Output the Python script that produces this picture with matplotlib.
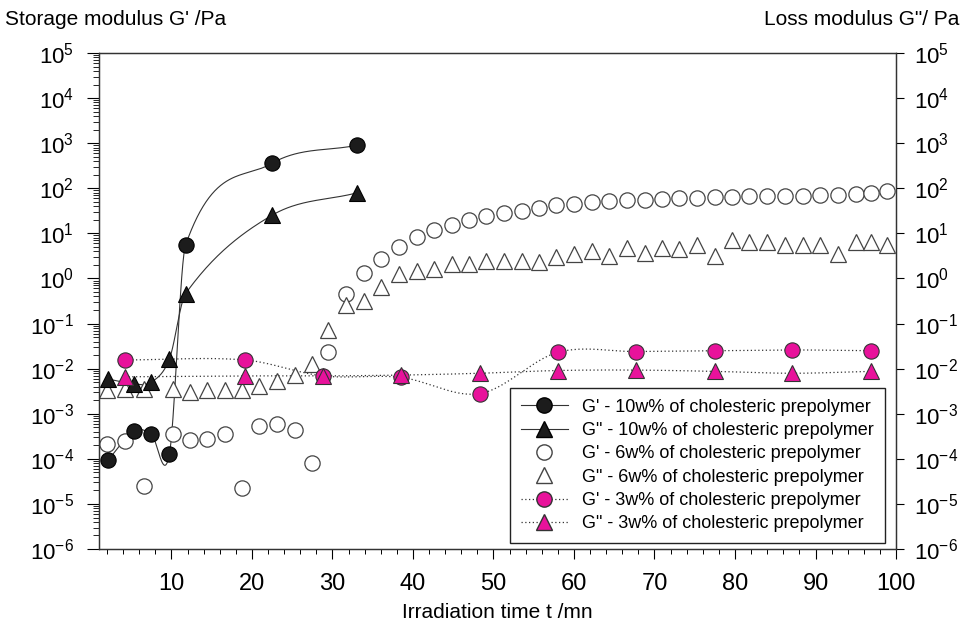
import numpy as np
import matplotlib.pyplot as plt
from matplotlib.ticker import LogLocator, FixedLocator, MultipleLocator, FuncFormatter
from matplotlib.lines import Line2D

plt.rcParams['font.family'] = ['Liberation Sans', 'DejaVu Sans']
plt.rcParams['mathtext.default'] = 'regular'
plt.rcParams['axes.unicode_minus'] = False

# 10w% of cholesteric prepolymer
t10 = [2.1, 5.4, 7.5, 9.75, 11.75, 22.45, 33.0]
g1_10 = [9.3e-5, 4.2e-4, 3.5e-4, 1.3e-4, 5.5, 355, 900]
g2_10 = [5.9e-3, 4.6e-3, 5.0e-3, 1.65e-2, 0.46, 25, 79]

# 6w% of cholesteric prepolymer
t6 = [2.0, 4.25, 6.65, 10.2, 12.3, 14.4, 16.6, 18.8, 20.9, 23.1, 25.3, 27.5, 29.5,
      31.7, 33.9, 36.0, 38.3, 40.5, 42.6, 44.8, 47.0, 49.1, 51.3, 53.5, 55.6, 57.8,
      60.0, 62.2, 64.4, 66.6, 68.8, 70.9, 73.0, 75.3, 77.5, 79.6, 81.8, 84.0, 86.2,
      88.4, 90.6, 92.8, 95.0, 96.9, 98.9]
g1_6 = [2.1e-4, 2.5e-4, 2.5e-5, 3.5e-4, 2.6e-4, 2.8e-4, 3.5e-4, 2.3e-5, 5.4e-4, 5.9e-4,
        4.4e-4, 8e-5, 2.3e-2, 0.46, 1.3, 2.7, 5.1, 8.3, 11.7, 15, 19.5, 24, 28, 32, 37,
        42, 46, 49, 52, 54, 56, 59, 60, 62, 63, 64, 66, 66, 69, 69, 71, 72, 74, 79, 87]
g2_6 = [3.4e-3, 3.5e-3, 3.5e-3, 3.5e-3, 3.1e-3, 3.3e-3, 3.3e-3, 3.3e-3, 4.2e-3, 5.4e-3,
        7.4e-3, 1.27e-2, 7.2e-2, 0.26, 0.32, 0.64, 1.23, 1.5, 1.6, 2.1, 2.1, 2.5, 2.5, 2.5,
        2.3, 3.0, 3.5, 4.0, 3.2, 4.7, 3.6, 4.7, 4.4, 5.4, 3.2, 7.2, 6.4, 6.6, 5.4, 5.4,
        5.4, 3.5, 6.4, 6.4, 5.4]

# 3w% of cholesteric prepolymer
t3 = [4.2, 19.1, 28.8, 38.5, 48.3, 58.0, 67.7, 77.5, 87.1, 96.9]
g1_3 = [1.56e-2, 1.56e-2, 6.9e-3, 6.4e-3, 2.8e-3, 2.3e-2, 2.4e-2, 2.5e-2, 2.6e-2, 2.5e-2]
g2_3 = [6.6e-3, 6.9e-3, 6.9e-3, 7.2e-3, 7.9e-3, 9.1e-3, 9.3e-3, 8.7e-3, 7.9e-3, 8.7e-3]

labels = ["G' - 10w% of cholesteric prepolymer", 'G" - 10w% of cholesteric prepolymer',
          "G' - 6w% of cholesteric prepolymer", 'G" - 6w% of cholesteric prepolymer',
          "G' - 3w% of cholesteric prepolymer", 'G" - 3w% of cholesteric prepolymer']

pink = '#e8129b'
dark = '#1c1c1c'


def smooth(x, y, n=60):
    # cubic hermite curve through the points in log space (like the original spline line)
    x = np.asarray(x, float)
    ly = np.log10(np.asarray(y, float))
    m = np.empty_like(ly)
    m[1:-1] = (ly[2:] - ly[:-2]) / (x[2:] - x[:-2])
    m[0] = (ly[1] - ly[0]) / (x[1] - x[0])
    m[-1] = (ly[-1] - ly[-2]) / (x[-1] - x[-2])
    t = np.linspace(0, 1, n)
    xs, ys = [], []
    for i in range(len(x) - 1):
        h = x[i + 1] - x[i]
        seg = ((2 * t**3 - 3 * t**2 + 1) * ly[i] + (t**3 - 2 * t**2 + t) * h * m[i]
               + (-2 * t**3 + 3 * t**2) * ly[i + 1] + (t**3 - t**2) * h * m[i + 1])
        xs.append(x[i] + t * h)
        ys.append(seg)
    return np.concatenate(xs), 10 ** np.concatenate(ys)


fig = plt.figure(figsize=(9.62, 6.35), dpi=100)
ax = fig.add_axes([0.1029, 0.1354, 0.8285, 0.7811])

# lines
for t, g in [(t10, g1_10), (t10, g2_10)]:
    xs, ys = smooth(t, g)
    ax.plot(xs, ys, color='#333333', lw=0.8, zorder=2)
for t, g in [(t3, g1_3), (t3, g2_3)]:
    xs, ys = smooth(t, g)
    ax.plot(xs, ys, color='#333333', lw=0.9, ls=(0, (1, 2)), zorder=2)

# markers
ms = 11
ax.plot(t6, g1_6, 'o', ms=ms, mfc='white', mec='#444444', mew=0.9, zorder=3)
ax.plot(t6, g2_6, '^', ms=ms, mfc='white', mec='#444444', mew=0.9, zorder=3)
ax.plot(t10, g1_10, 'o', ms=ms, mfc=dark, mec='black', mew=0.8, zorder=4)
ax.plot(t10, g2_10, '^', ms=ms, mfc=dark, mec='black', mew=0.8, zorder=4)
ax.plot(t3, g1_3, 'o', ms=ms, mfc=pink, mec='#333333', mew=0.8, zorder=5)
ax.plot(t3, g2_3, '^', ms=ms, mfc=pink, mec='#333333', mew=0.8, zorder=5)

ax.set_yscale('log')
ax.set_ylim(1e-6, 1e5)
ax.set_xlim(1, 100)

decades = [10.0**k for k in range(-6, 6)]
fmt = FuncFormatter(lambda v, p: '$10^{%d}$' % round(np.log10(v)))
ax.yaxis.set_major_locator(FixedLocator(decades))
ax.yaxis.set_minor_locator(LogLocator(base=10, subs=np.arange(2, 10), numticks=30))
ax.yaxis.set_major_formatter(fmt)
ax.yaxis.set_minor_formatter(plt.NullFormatter())
ax.xaxis.set_major_locator(FixedLocator([10, 20, 30, 40, 50, 60, 70, 80, 90, 100]))
ax.xaxis.set_minor_locator(MultipleLocator(2))

ax.tick_params(axis='y', which='major', direction='out', length=9, width=0.8, pad=9, labelsize=16)
ax.tick_params(axis='y', which='minor', direction='out', length=4, width=0.6)
ax.tick_params(axis='x', which='major', direction='out', length=7, width=0.8, pad=10, labelsize=17)
ax.tick_params(axis='x', which='minor', direction='out', length=3.5, width=0.7)

ax2 = ax.twinx()
ax2.set_yscale('log')
ax2.set_ylim(1e-6, 1e5)
ax2.yaxis.set_major_locator(FixedLocator(decades))
ax2.yaxis.set_minor_locator(plt.NullLocator())
ax2.yaxis.set_major_formatter(fmt)
ax2.tick_params(axis='y', which='major', direction='out', length=6, width=0.8, pad=7, labelsize=16)

for a in (ax, ax2):
    for s in a.spines.values():
        s.set_linewidth(0.9)
        s.set_color('#333333')

fig.text(0.005, 0.97, "Storage modulus G' /Pa", fontsize=15, ha='left', va='center')
fig.text(0.997, 0.97, 'Loss modulus G"/ Pa', fontsize=15, ha='right', va='center')
ax.set_xlabel('Irradiation time t /mn', fontsize=15, labelpad=6)

handles = [
    Line2D([0], [0], color='#333333', lw=0.8, marker='o', ms=ms, mfc=dark, mec='black'),
    Line2D([0], [0], color='#333333', lw=0.8, marker='^', ms=ms, mfc=dark, mec='black'),
    Line2D([0], [0], ls='none', marker='o', ms=ms, mfc='white', mec='#444444'),
    Line2D([0], [0], ls='none', marker='^', ms=ms, mfc='white', mec='#444444'),
    Line2D([0], [0], color='#333333', lw=0.9, ls=(0, (1, 2)), marker='o', ms=ms, mfc=pink, mec='#333333'),
    Line2D([0], [0], color='#333333', lw=0.9, ls=(0, (1, 2)), marker='^', ms=ms, mfc=pink, mec='#333333'),
]
leg = ax2.legend(handles, labels, loc='lower right', bbox_to_anchor=(0.986, 0.012),
                 fontsize=13, frameon=True, fancybox=False, framealpha=1,
                 edgecolor='#222222', handlelength=2.6, handletextpad=0.8,
                 labelspacing=0.35, borderpad=0.6, borderaxespad=0)
leg.get_frame().set_linewidth(1.0)

fig.savefig('out.png', dpi=100)
